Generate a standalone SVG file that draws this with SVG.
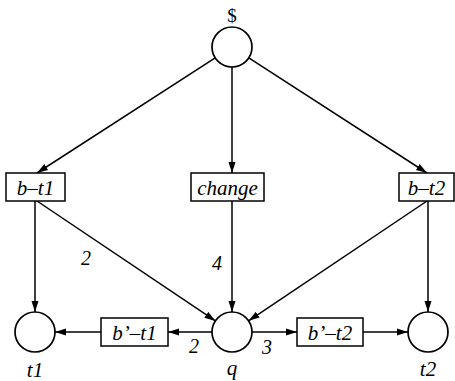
<svg xmlns="http://www.w3.org/2000/svg" width="455" height="381" viewBox="0 0 455 381">
<defs>
<style>
.pl{fill:#fff;stroke:#000;stroke-width:1.7}
.tr{fill:#fff;stroke:#000;stroke-width:1.5}
.e{stroke:#000;stroke-width:1.5;fill:none;marker-end:url(#ah)}
.t{font-family:"Liberation Serif",serif;font-style:italic;font-size:21px;text-anchor:middle;fill:#000}
.n{font-family:"Liberation Serif",serif;font-style:italic;font-size:20px;text-anchor:middle;fill:#000}
.s{font-family:"Liberation Serif",serif;font-size:19px;text-anchor:middle;fill:#000}
</style>
<marker id="ah" markerUnits="userSpaceOnUse" markerWidth="12" markerHeight="8" refX="11" refY="4" orient="auto">
<path d="M0,0.5 L11,4 L0,7.5 z" fill="#000"/>
</marker>
</defs>
<g id="connectors">
<line class="e" x1="215.2" y1="57.9" x2="37" y2="173"/>
<line class="e" x1="232" y1="67" x2="232" y2="173"/>
<line class="e" x1="248.8" y1="57.9" x2="427" y2="173"/>
<line class="e" x1="35" y1="201" x2="35" y2="312"/>
<line class="e" x1="37" y1="201" x2="215.4" y2="320.9"/>
<line class="e" x1="232" y1="201" x2="232" y2="312"/>
<line class="e" x1="427" y1="201" x2="248.6" y2="320.8"/>
<line class="e" x1="428" y1="201" x2="428" y2="312"/>
<line class="e" x1="212" y1="332" x2="168" y2="332"/>
<line class="e" x1="101" y1="332" x2="55" y2="332"/>
<line class="e" x1="252" y1="332" x2="297" y2="332"/>
<line class="e" x1="363" y1="332" x2="408" y2="332"/>
<text class="n" x="86" y="265">2</text>
<text class="n" x="217" y="270">4</text>
<text class="n" x="194" y="353">2</text>
<text class="n" x="267" y="354">3</text>
</g>
<g id="dollar">
<circle class="pl" cx="232" cy="47" r="20"/>
<text class="s" x="232" y="22">$</text>
</g>
<g id="b-t1">
<rect class="tr" x="6" y="173" width="59" height="28"/>
<text class="t" x="35.5" y="194.5">b–t1</text>
</g>
<g id="change">
<rect class="tr" x="191" y="173" width="73" height="28"/>
<text class="t" x="227.5" y="194.5">change</text>
</g>
<g id="b-t2">
<rect class="tr" x="399" y="173" width="55" height="28"/>
<text class="t" x="426.5" y="194.5">b–t2</text>
</g>
<g id="t1">
<circle class="pl" cx="35" cy="332" r="20"/>
<text class="t" x="35" y="377">t1</text>
</g>
<g id="q">
<circle class="pl" cx="232" cy="332" r="20"/>
<text class="t" x="232" y="375">q</text>
</g>
<g id="t2">
<circle class="pl" cx="428" cy="332" r="20"/>
<text class="t" x="428" y="376">t2</text>
</g>
<g id="b-prime-t1">
<rect class="tr" x="101" y="318" width="67" height="28"/>
<text class="t" x="134.5" y="339.5">b’–t1</text>
</g>
<g id="b-prime-t2">
<rect class="tr" x="297" y="318" width="66" height="28"/>
<text class="t" x="330" y="339.5">b’–t2</text>
</g>
</svg>
